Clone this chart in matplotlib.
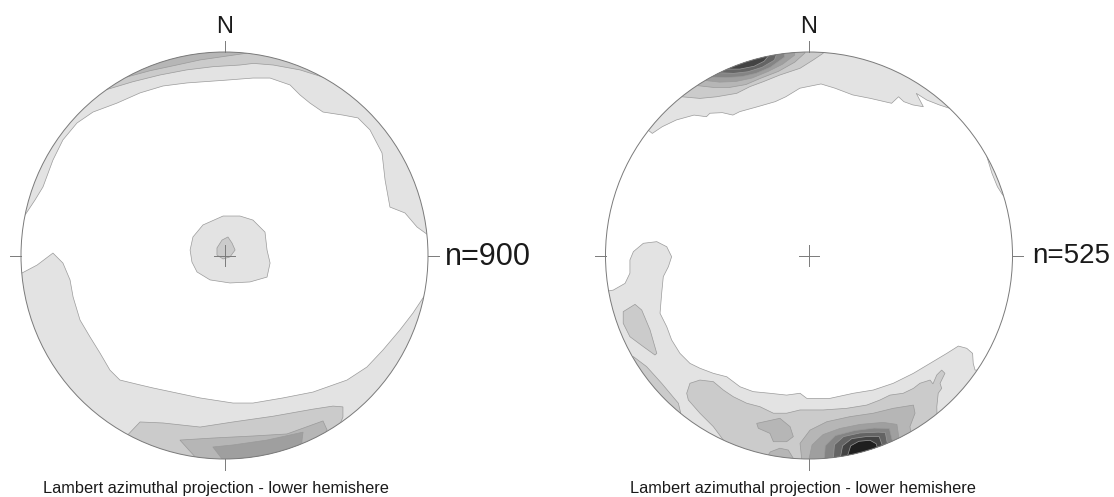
import numpy as np
import matplotlib.pyplot as plt
from matplotlib.patches import Polygon, Circle

plt.rcParams['font.family'] = ['Liberation Sans', 'DejaVu Sans']

W, H = 1114, 497
R_PX = 203.5

# grey fill for contour level 1 (lowest) .. 8 (highest)
shades = ['#e3e3e3', '#cbcbcb', '#b6b6b6', '#9f9f9f', '#848484',
          '#646464', '#434343', '#1f1f1f']

# ---- left net, n=900 (unit circle coords, x east, y north) ----
# rim paths start and end on the primitive circle
left_top_1 = [(-0.980, 0.199), (-0.931, 0.273), (-0.892, 0.337), (-0.843, 0.469),
              (-0.794, 0.568), (-0.725, 0.651), (-0.646, 0.705), (-0.528, 0.749),
              (-0.415, 0.799), (-0.302, 0.833), (-0.184, 0.848), (0.012, 0.862),
              (0.140, 0.872), (0.224, 0.872), (0.322, 0.838), (0.371, 0.789),
              (0.420, 0.749), (0.484, 0.705), (0.582, 0.690), (0.656, 0.676),
              (0.715, 0.617), (0.774, 0.504), (0.789, 0.371), (0.813, 0.238),
              (0.887, 0.209), (0.946, 0.140), (1.000, 0.101)]
left_top_2 = [(-0.587, 0.813), (-0.450, 0.854), (-0.317, 0.887), (-0.186, 0.912),
              (-0.055, 0.928), (0.076, 0.936), (0.142, 0.944), (0.240, 0.936),
              (0.371, 0.912), (0.502, 0.871)]
left_top_3 = [(-0.481, 0.877), (-0.366, 0.908), (-0.235, 0.936), (-0.120, 0.961),
              (0.011, 0.980), (0.109, 0.994)]
left_bot_1 = [(-0.995, -0.086), (-0.921, -0.047), (-0.843, 0.012), (-0.794, -0.037),
              (-0.759, -0.120), (-0.744, -0.204), (-0.710, -0.317), (-0.661, -0.400),
              (-0.612, -0.479), (-0.563, -0.563), (-0.514, -0.612), (-0.415, -0.636),
              (-0.351, -0.651), (-0.233, -0.676), (-0.120, -0.700), (0.042, -0.725),
              (0.140, -0.725), (0.287, -0.700), (0.435, -0.671), (0.602, -0.612),
              (0.700, -0.548), (0.779, -0.464), (0.862, -0.366), (0.926, -0.283),
              (0.985, -0.194)]
left_bot_2 = [(-0.474, -0.880), (-0.415, -0.818), (-0.302, -0.823), (-0.120, -0.843),
              (0.042, -0.818), (0.238, -0.790), (0.435, -0.755), (0.533, -0.740),
              (0.582, -0.744), (0.582, -0.794), (0.570, -0.822)]
left_bot_3 = [(-0.145, -0.989), (-0.219, -0.907), (-0.057, -0.897), (0.140, -0.887),
              (0.307, -0.877), (0.484, -0.813), (0.504, -0.857), (0.500, -0.866)]
left_bot_4 = [(-0.012, -1.000), (-0.057, -0.941), (0.042, -0.931), (0.209, -0.907),
              (0.386, -0.868), (0.381, -0.907), (0.380, -0.925)]
# closed blobs around the centre
left_mid_1 = [(-0.169, 0.027), (-0.155, 0.091), (-0.106, 0.150), (-0.007, 0.194),
              (0.076, 0.194), (0.140, 0.174), (0.199, 0.115), (0.209, 0.027),
              (0.224, -0.037), (0.209, -0.106), (0.125, -0.130), (0.027, -0.135),
              (-0.071, -0.120), (-0.135, -0.081), (-0.160, -0.032)]
left_mid_2 = [(-0.037, 0.037), (-0.012, 0.076), (0.017, 0.091), (0.037, 0.061),
              (0.052, 0.027), (0.027, -0.007), (-0.007, -0.017), (-0.037, 0.002)]

# ---- right net, n=525 ----
right_top_1 = [(-0.770, 0.600), (-0.721, 0.633), (-0.652, 0.666), (-0.565, 0.690),
               (-0.504, 0.682), (-0.487, 0.699), (-0.426, 0.702), (-0.374, 0.690),
               (-0.340, 0.707), (-0.253, 0.731), (-0.166, 0.756), (-0.114, 0.780),
               (-0.045, 0.822), (0.059, 0.843), (0.128, 0.822), (0.215, 0.789),
               (0.302, 0.772), (0.371, 0.756), (0.406, 0.748), (0.440, 0.780),
               (0.466, 0.756), (0.510, 0.740), (0.562, 0.731), (0.527, 0.797),
               (0.579, 0.764), (0.640, 0.740), (0.692, 0.723)]
right_top_2 = [(-0.626, 0.780), (-0.536, 0.772), (-0.454, 0.780), (-0.355, 0.797),
               (-0.290, 0.830), (-0.225, 0.854), (-0.143, 0.887), (-0.044, 0.920),
               (0.021, 0.961), (0.070, 0.994)]
right_top_3 = [(-0.550, 0.835), (-0.470, 0.826), (-0.390, 0.826), (-0.310, 0.840),
               (-0.240, 0.870), (-0.150, 0.905), (-0.070, 0.950), (-0.020, 0.995)]
right_top_4 = [(-0.510, 0.860), (-0.440, 0.852), (-0.360, 0.855), (-0.280, 0.872),
               (-0.200, 0.905), (-0.130, 0.940), (-0.070, 0.985)]
right_top_5 = [(-0.480, 0.877), (-0.410, 0.874), (-0.330, 0.879), (-0.260, 0.895),
               (-0.190, 0.925), (-0.120, 0.975)]
right_top_6 = [(-0.440, 0.898), (-0.370, 0.895), (-0.300, 0.903), (-0.230, 0.925),
               (-0.170, 0.960), (-0.160, 0.987)]
right_top_7 = [(-0.400, 0.916), (-0.340, 0.916), (-0.270, 0.930), (-0.220, 0.955),
               (-0.200, 0.980)]
right_east_1 = [(0.874, 0.486), (0.899, 0.404), (0.926, 0.338), (0.952, 0.297)]
right_bot_1 = [(-0.962, -0.170), (-0.904, -0.137), (-0.880, -0.087), (-0.880, -0.022),
               (-0.863, 0.019), (-0.814, 0.060), (-0.748, 0.068), (-0.699, 0.043),
               (-0.675, -0.006), (-0.691, -0.055), (-0.716, -0.104), (-0.724, -0.186),
               (-0.732, -0.284), (-0.699, -0.350), (-0.675, -0.415), (-0.634, -0.481),
               (-0.585, -0.530), (-0.536, -0.554), (-0.470, -0.579), (-0.404, -0.596),
               (-0.339, -0.645), (-0.274, -0.669), (-0.192, -0.677), (-0.110, -0.686),
               (-0.044, -0.677), (-0.011, -0.702), (0.103, -0.702), (0.218, -0.677),
               (0.316, -0.661), (0.414, -0.628), (0.513, -0.579), (0.595, -0.530),
               (0.677, -0.481), (0.734, -0.445), (0.775, -0.456), (0.804, -0.481),
               (0.807, -0.530), (0.816, -0.563), (0.827, -0.563)]
right_bot_2 = [(-0.421, -0.907), (-0.470, -0.841), (-0.536, -0.775), (-0.593, -0.710),
               (-0.601, -0.677), (-0.585, -0.628), (-0.536, -0.612), (-0.470, -0.620),
               (-0.421, -0.661), (-0.372, -0.694), (-0.306, -0.726), (-0.241, -0.743),
               (-0.175, -0.775), (-0.110, -0.775), (-0.044, -0.759), (0.070, -0.759),
               (0.185, -0.751), (0.284, -0.735), (0.349, -0.710), (0.398, -0.686),
               (0.463, -0.677), (0.513, -0.653), (0.545, -0.628), (0.595, -0.612),
               (0.609, -0.631), (0.628, -0.587), (0.652, -0.563), (0.668, -0.579),
               (0.644, -0.628), (0.652, -0.653), (0.635, -0.677), (0.628, -0.743),
               (0.629, -0.779)]
right_west_2 = [(-0.863, -0.497), (-0.798, -0.546), (-0.724, -0.628), (-0.642, -0.726),
                (-0.630, -0.776)]
right_bot_3 = [(-0.036, -0.999), (-0.044, -0.923), (0.005, -0.858), (0.087, -0.817),
               (0.201, -0.792), (0.316, -0.775), (0.414, -0.751), (0.513, -0.735),
               (0.521, -0.775), (0.496, -0.841), (0.500, -0.866)]
right_rim_3 = [(-0.200, -0.980), (-0.190, -0.965), (-0.143, -0.947), (-0.102, -0.956),
               (-0.077, -0.997)]
right_bot_4 = [(0.000, -1.000), (0.015, -0.931), (0.069, -0.880), (0.152, -0.850),
               (0.251, -0.830), (0.364, -0.820), (0.432, -0.830), (0.442, -0.897)]
right_bot_5 = [(0.075, -0.997), (0.080, -0.935), (0.130, -0.885), (0.225, -0.860),
               (0.320, -0.848), (0.395, -0.850), (0.410, -0.912)]
right_bot_6 = [(0.120, -0.993), (0.125, -0.930), (0.170, -0.890), (0.250, -0.872),
               (0.340, -0.868), (0.375, -0.870), (0.385, -0.923)]
right_bot_7 = [(0.155, -0.988), (0.165, -0.935), (0.210, -0.900), (0.280, -0.890),
               (0.345, -0.890), (0.360, -0.933)]
right_bot_8 = [(0.190, -0.982), (0.205, -0.935), (0.245, -0.913), (0.300, -0.908),
               (0.330, -0.925), (0.335, -0.942)]
# closed blobs
right_west_blob_2 = [(-0.913, -0.276), (-0.855, -0.240), (-0.822, -0.268), (-0.781, -0.366),
                     (-0.748, -0.481), (-0.757, -0.489), (-0.814, -0.448), (-0.880, -0.399),
                     (-0.913, -0.333)]
right_blob_3 = [(-0.257, -0.825), (-0.143, -0.800), (-0.093, -0.841), (-0.077, -0.890),
                (-0.110, -0.915), (-0.175, -0.915), (-0.192, -0.874), (-0.249, -0.849)]

nets = [
    dict(cx=224.5, cy=255.5, label='n=900', label_size=22, label_x=1.084, label_y=-0.047,
         title_x=-0.044,
         rim=[(1, left_top_1), (2, left_top_2), (3, left_top_3),
              (1, left_bot_1), (2, left_bot_2), (3, left_bot_3), (4, left_bot_4)],
         blobs=[(1, left_mid_1), (2, left_mid_2)]),
    dict(cx=809.0, cy=255.5, label='n=525', label_size=20, label_x=1.096, label_y=-0.037,
         title_x=-0.03,
         rim=[(1, right_top_1), (2, right_top_2), (3, right_top_3), (4, right_top_4),
              (5, right_top_5), (6, right_top_6), (7, right_top_7), (1, right_east_1),
              (1, right_bot_1), (2, right_bot_2), (2, right_west_2), (3, right_bot_3),
              (3, right_rim_3), (4, right_bot_4), (5, right_bot_5), (6, right_bot_6),
              (7, right_bot_7), (8, right_bot_8)],
         blobs=[(2, right_west_blob_2), (3, right_blob_3)]),
]


def close_on_rim(path):
    # close an open rim-to-rim path with an arc outside the net (it gets clipped)
    p = np.asarray(path, dtype=float)
    a0 = np.arctan2(p[0, 1], p[0, 0])
    a1 = np.arctan2(p[-1, 1], p[-1, 0])
    d = (a0 - a1 + np.pi) % (2 * np.pi) - np.pi
    t = a1 + np.linspace(0, d, 40)
    arc = 1.5 * np.column_stack([np.cos(t), np.sin(t)])
    return np.vstack([p[-1:] * 1.5 / np.hypot(*p[-1]), arc, p[:1] * 1.5 / np.hypot(*p[0]), p])


fig = plt.figure(figsize=(W / 100, H / 100), dpi=100)
half = 1.3
line_col = '#7a7a7a'

for net in nets:
    side = 2 * half * R_PX
    ax = fig.add_axes([(net['cx'] - half * R_PX) / W, (H - net['cy'] - half * R_PX) / H,
                       side / W, side / H])
    ax.set_xlim(-half, half)
    ax.set_ylim(-half, half)
    ax.axis('off')

    clip = Circle((0, 0), 1.0, transform=ax.transData)
    for level, path in net['rim']:
        poly = Polygon(close_on_rim(path), closed=True, facecolor=shades[level - 1],
                       edgecolor='#9a9a9a', linewidth=0.5)
        ax.add_patch(poly)
        poly.set_clip_path(clip)
    for level, path in net['blobs']:
        poly = Polygon(path, closed=True, facecolor=shades[level - 1],
                       edgecolor='#9a9a9a', linewidth=0.5)
        ax.add_patch(poly)
        poly.set_clip_path(clip)

    ax.add_patch(Circle((0, 0), 1.0, fill=False, edgecolor=line_col, linewidth=0.7))
    # cardinal ticks and centre cross
    ax.plot([0, 0], [1.0, 1.054], color=line_col, lw=0.7)
    ax.plot([0, 0], [-1.0, -1.054], color=line_col, lw=0.7)
    ax.plot([-1.0, -1.054], [0, 0], color=line_col, lw=0.7)
    ax.plot([1.0, 1.054], [0, 0], color=line_col, lw=0.7)
    ax.plot([-0.05, 0.05], [0, 0], color=line_col, lw=0.7)
    ax.plot([0, 0], [-0.05, 0.05], color=line_col, lw=0.7)

    ax.text(0, 1.093, 'N', ha='center', va='baseline', fontsize=17, color='#1a1a1a')
    ax.text(net['label_x'], net['label_y'], net['label'], ha='left', va='baseline',
            fontsize=net['label_size'], color='#1a1a1a')
    ax.text(net['title_x'], -1.167, 'Lambert azimuthal projection - lower hemishere',
            ha='center', va='baseline', fontsize=11.8, color='#1a1a1a')

fig.savefig('out.png', dpi=100)
